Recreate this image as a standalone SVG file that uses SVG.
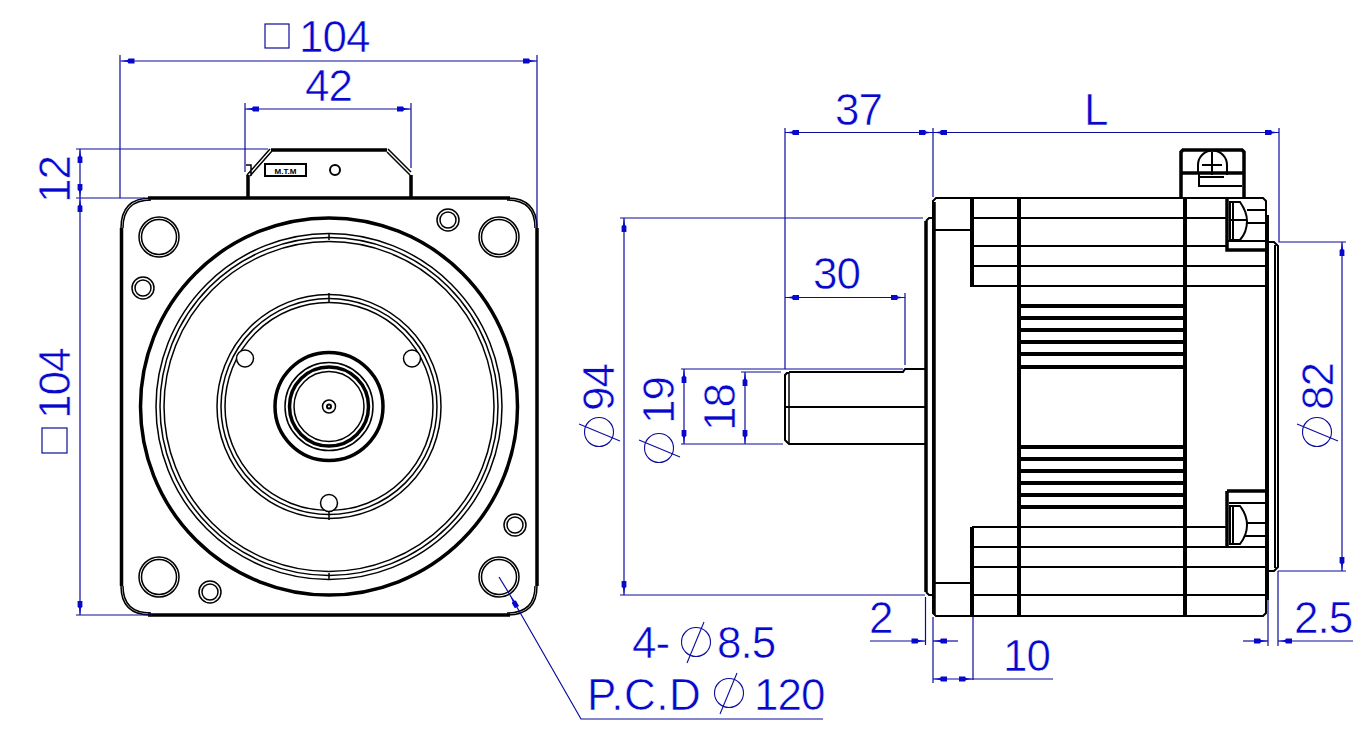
<svg xmlns="http://www.w3.org/2000/svg" width="1365" height="736" viewBox="0 0 1365 736">
<style>
.k{fill:none;stroke:#000;stroke-width:1.5}
.t{fill:none;stroke:#000;stroke-width:3.5}
.m{fill:none;stroke:#000;stroke-width:2}
.v{fill:none;stroke:#000;stroke-width:4}
.h{fill:none;stroke:#000;stroke-width:4}
.d{fill:none;stroke:#0c0c9c;stroke-width:1.2}
.a{marker-end:url(#ar)}
.s{marker-start:url(#ar)}
.x{font-family:"Liberation Sans",Arial,sans-serif;font-size:44px;letter-spacing:-1px;fill:#0808cc;stroke:#fff;stroke-width:.6px}
.sm{font-family:"Liberation Sans",Arial,sans-serif;font-size:8px;font-weight:bold;fill:#000}
</style>
<defs>
<marker id="ar" markerUnits="userSpaceOnUse" viewBox="-15 -4 16 8" refX="0" refY="0" markerWidth="16" markerHeight="8" orient="auto-start-reverse">
<path d="M0,0L-7,-1L-8,-2.400L-14,-2.400L-14,2.400L-8,2.400L-7,1Z" fill="#0808cc"/>
</marker>
<g id="phi"><circle r="14.500" fill="none" stroke="#0c0c9c" stroke-width="1.100"/><path d="M8,-20L-9,21" fill="none" stroke="#0c0c9c" stroke-width="1.100"/></g>
</defs>
<rect width="1365" height="736" fill="#fff"/>

<g id="front-view">
<path class="t" d="M248,198V175M271,150H387M411,198V175"/>
<path class="k" d="M247,175L270,149M250,176L272,151M388,149L411,172M387,152L410,175M246,165H251V176"/>
<rect class="m" x="265" y="164" width="41" height="12"/>
<text class="sm" x="285.500" y="173.500" text-anchor="middle">M.T.M</text>
<circle class="m" cx="335" cy="170" r="5"/>
<path class="t" d="M148,198H510M537,228V586M510,615H148M121.500,586V228"/>
<path class="k" d="M121,228Q121,198 151,198M123,228Q123,200 151,200M507,198Q537,198 537,228M507,200Q535,200 535,228M537,586Q537,615 507,615M535,586Q535,613 507,613M121,586Q121,615 151,615M123,586Q123,613 151,613"/>
<circle class="t" cx="329" cy="406.500" r="188.500"/>
<circle class="k" cx="329" cy="406.500" r="173"/><circle class="k" cx="329" cy="406.500" r="169"/><circle class="k" cx="329" cy="406.500" r="165"/>
<path class="k" d="M329,233V240M329,573V580"/>
<circle class="k" cx="329" cy="406.500" r="112"/><circle class="k" cx="329" cy="406.500" r="108"/><circle class="k" cx="329" cy="406.500" r="104"/>
<path class="k" d="M329,293V302M329,511V520"/>
<circle class="t" cx="329" cy="406.500" r="54"/><circle class="k" cx="329" cy="406.500" r="44"/><circle class="t" cx="329" cy="406.500" r="39.500"/><circle class="k" cx="329" cy="406.500" r="35"/>
<circle class="k" cx="329" cy="406.500" r="6.500"/><circle class="m" cx="329" cy="406.500" r="2"/>
<circle class="k" cx="245" cy="358.500" r="8.500" style="fill:#fff"/><circle class="k" cx="412" cy="358.500" r="8.500" style="fill:#fff"/><circle class="k" cx="329" cy="503" r="8.500" style="fill:#fff"/>
<g id="holes">
<circle class="k" cx="159" cy="237" r="20"/><circle class="k" cx="159" cy="237" r="17.500"/>
<circle class="k" cx="499" cy="237" r="20"/><circle class="k" cx="499" cy="237" r="17.500"/>
<circle class="k" cx="159" cy="577" r="20"/><circle class="k" cx="159" cy="577" r="17.500"/>
<circle class="k" cx="499" cy="577" r="20"/><circle class="k" cx="499" cy="577" r="17.500"/>
<circle class="k" cx="143" cy="288" r="11"/><circle class="k" cx="143" cy="288" r="8"/>
<circle class="k" cx="448" cy="220" r="11"/><circle class="k" cx="448" cy="220" r="8"/>
<circle class="k" cx="515" cy="525" r="11"/><circle class="k" cx="515" cy="525" r="8"/>
<circle class="k" cx="210" cy="592" r="11"/><circle class="k" cx="210" cy="592" r="8"/>
</g>
</g>

<g id="side-view">
<path class="t" d="M926,221V592M934,202V614"/>
<path class="v" d="M972,198V287M972,527V616M1019,198V616M1185,198V616"/>
<path class="m" d="M936,198H1263L1266,201V613L1263,616H936L933,613V201Z"/>
<path class="m" d="M926,221L929,218H934M926,592L929,595H934"/>
<path class="m" d="M934,230H972M934,583H972M972,218H1227M972,246H1227M972,266H1266M972,286H1266M972,527H1227M972,547H1266M972,567H1266M972,595H1266"/>
<path class="h" d="M1019,306H1185M1019,318H1185M1019,330H1185M1019,342H1185M1019,354H1185M1019,367H1185M1019,447H1185M1019,459H1185M1019,471H1185M1019,483H1185M1019,495H1185M1019,507H1185"/>
<path class="m" d="M1268,215V600M1275,245V568M1268,242H1274L1278,246V567L1274,571H1268"/>
<path class="m" d="M926,369H905L903,372H789M789,373H787L785,375V440L789,444H926M785,407H926"/>
<path class="k" d="M789,373V444"/>
<path class="t" d="M1227,198V250H1266M1227,491H1266M1227,491V547"/>
<g id="screw-top">
<path class="m" d="M1230,202H1240Q1247,212 1247,221Q1247,232 1240,240H1230ZM1233,202V240M1229,220H1247M1247,210H1266M1247,223H1266M1228,241H1266"/>
</g>
<g id="screw-bottom">
<path class="m" d="M1230,506H1240Q1247,515 1247,525Q1247,535 1240,544H1230ZM1233,506V544M1229,503H1266M1247,523H1266M1245,536H1266"/>
</g>
<g id="connector">
<path class="t" d="M1181,198V152L1183,150H1242L1244,152V198"/>
<path class="t" d="M1181,173H1244"/>
<path class="m" d="M1199,173V186H1242"/>
<path class="m" d="M1198,172V165A14.500,14.500 0 0 1 1227,165V175M1212,152V175M1202,165H1222M1199,177H1224"/>
</g>
</g>

<g id="connectors">
<path class="d" d="M120,55V198M537,55V228M245,103V172M411,103V168M76,149H268M76,198H145M76,615H152"/>
<path class="d a s" d="M120.500,61H537"/>
<path class="d a s" d="M245,109H411"/>
<path class="d a s" d="M80,149V198"/>
<path class="d a s" d="M80,198V615"/>
<path class="d" d="M785,128V369M933,128V197M1279,128V242H1346M1278,571H1346M620,218H923M620,595H925M681,369H903M681,444H783M741,372H781M905,293V365"/>
<path class="d a s" d="M785,132.500H933"/>
<path class="d a s" d="M933,132.500H1279"/>
<path class="d a s" d="M785,297.500H905"/>
<path class="d a s" d="M624,218V595"/>
<path class="d a s" d="M684,369V444"/>
<path class="d a s" d="M745,372V444"/>
<path class="d a s" d="M1342,242V571"/>
<path class="d" d="M925.500,597V645M933,617V683M973,617V680M1268,600V646M1278,571V646"/>
<path class="d a" d="M870,641H925.500"/>
<path class="d a" d="M958,641H933"/>
<path class="d a s" d="M933,679H973"/>
<path class="d" d="M973,679H1053"/>
<path class="d a" d="M1243,641H1268"/>
<path class="d a" d="M1353,641H1278"/>
<path class="d a" d="M823,719H581L510,595"/>
<path class="d" d="M510,595L499,577"/>
</g>

<g id="labels">
<rect class="d" x="265" y="24" width="24" height="24"/>
<text class="x" x="299" y="52">104</text>
<text class="x" x="305" y="101">42</text>
<text class="x" transform="translate(70,203) rotate(-90)">12</text>
<rect class="d" x="42" y="428" width="25" height="25"/>
<text class="x" transform="translate(70,419) rotate(-90)">104</text>
<text class="x" x="835" y="125">37</text>
<text class="x" x="1084" y="125">L</text>
<text class="x" x="813" y="289">30</text>
<use href="#phi" transform="translate(599,432) rotate(-90)"/>
<text class="x" transform="translate(614,411) rotate(-90)">94</text>
<use href="#phi" transform="translate(659,448) rotate(-90)"/>
<text class="x" transform="translate(674,424) rotate(-90)">19</text>
<text class="x" transform="translate(735,431) rotate(-90)">18</text>
<use href="#phi" transform="translate(1317,432) rotate(-90)"/>
<text class="x" transform="translate(1333,410) rotate(-90)">82</text>
<text class="x" x="869" y="633">2</text>
<text class="x" x="1003" y="671">10</text>
<text class="x" x="1294" y="633">2.5</text>
<text class="x" x="632" y="658">4-</text>
<use href="#phi" transform="translate(696,642)"/>
<text class="x" x="717" y="658">8.5</text>
<text class="x" x="587" y="710" style="letter-spacing:.5px">P.C.D</text>
<use href="#phi" transform="translate(729,693)"/>
<text class="x" x="754" y="710">120</text>
</g>
</svg>
